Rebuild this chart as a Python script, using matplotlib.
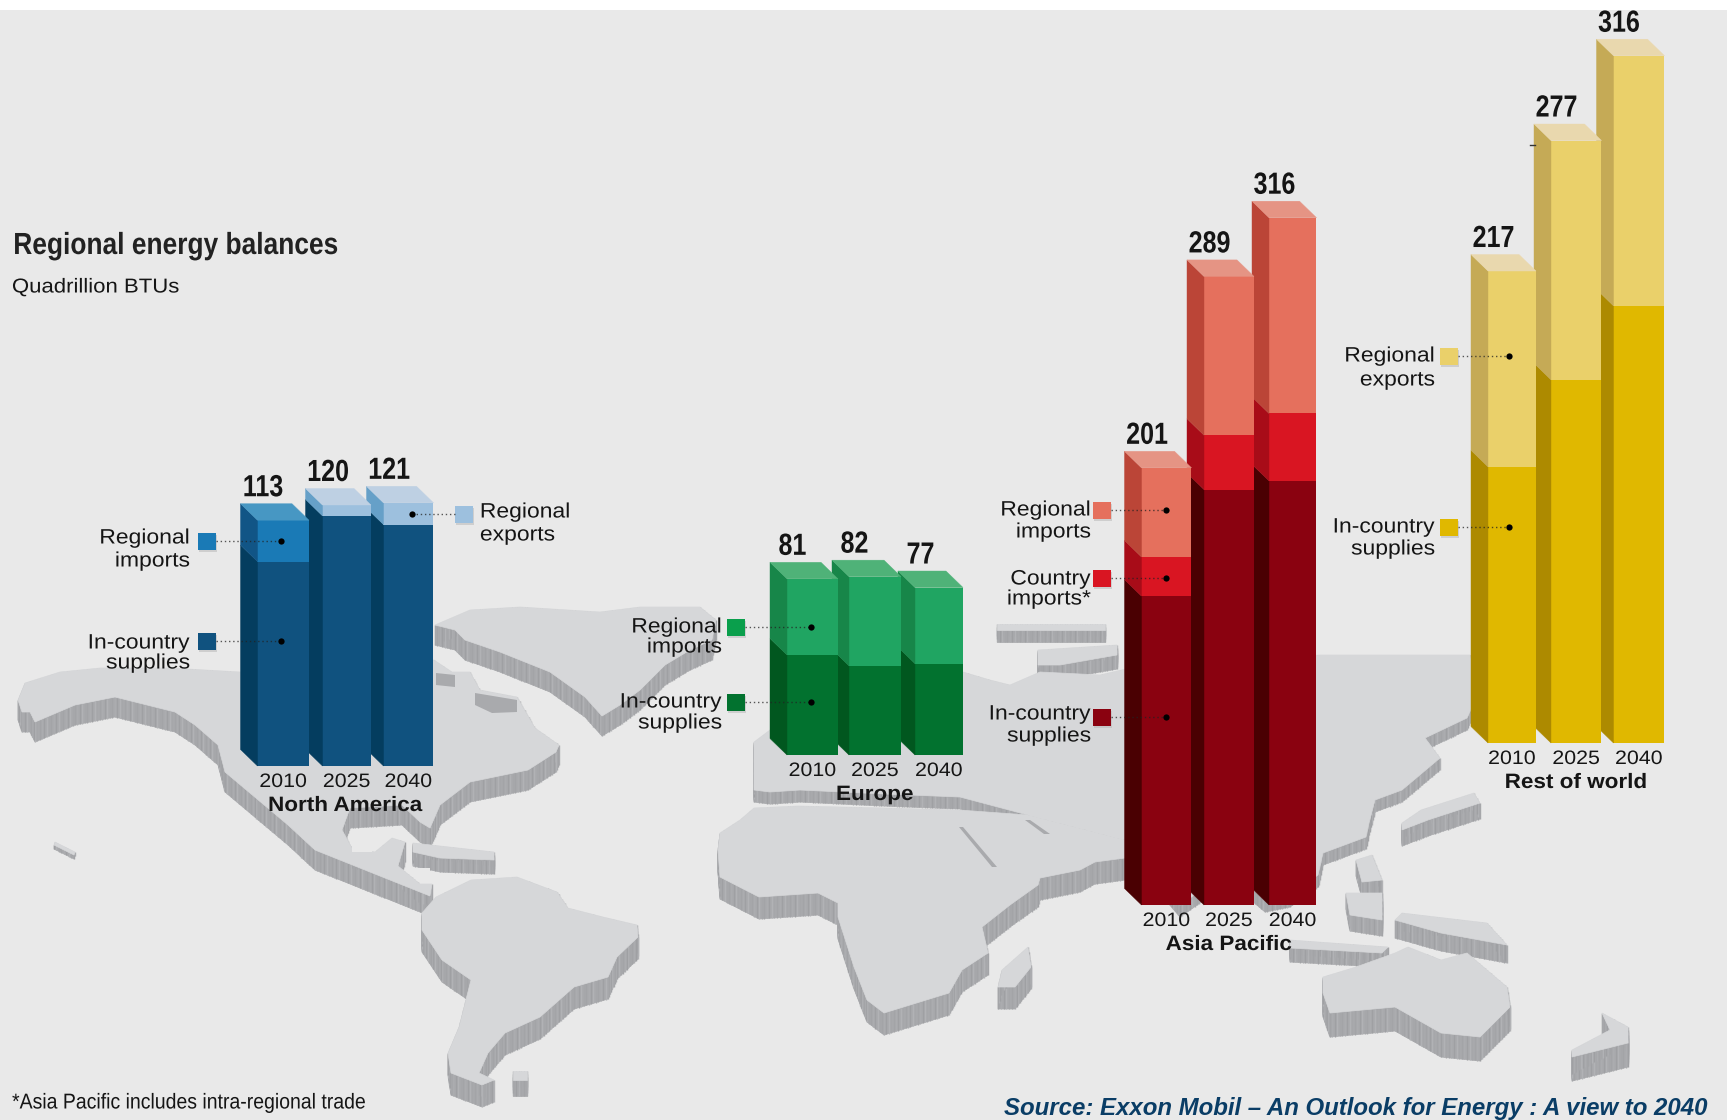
"""Regional energy balances: stacked pseudo-3D columns over a raised world map."""
import math

import matplotlib
matplotlib.use("Agg")
import matplotlib.pyplot as plt
from matplotlib.patches import Polygon, Rectangle
from matplotlib.patheffects import AbstractPathEffect
from matplotlib.transforms import Affine2D

W, H = 1727, 1120
BG = "#e9e9e9"
LAND = "#d6d7d9"
LAND_EDGE = "#a9aaad"
EDGE_STREAKS = ["#a6a7aa", "#b1b2b5", "#9fa0a3", "#abacaf", "#a3a4a7"]
INK = "#151515"
SANS = ["Liberation Sans", "DejaVu Sans"]

YEARS = ["2010", "2025", "2040"]

NA_TOTALS = [113, 120, 121]
NA_SUPPLIES = [94, 115, 111]
NA_IMPORTS = [19, 0, 0]
NA_EXPORTS = [0, 5, 10]

EU_TOTALS = [81, 82, 77]
EU_SUPPLIES = [46, 41, 42]
EU_IMPORTS = [35, 41, 35]

AP_TOTALS = [201, 289, 316]
AP_SUPPLIES = [142, 191, 195]
AP_COUNTRY = [18, 25, 31]
AP_IMPORTS = [41, 73, 90]

RW_TOTALS = [217, 277, 316]
RW_SUPPLIES = [127, 167, 201]
RW_EXPORTS = [90, 110, 115]

# pixels per quadrillion BTU, shared by every group of columns
PX_PER_UNIT = 2.175
DEPTH_X, DEPTH_Y = 17, 16.5

# land outlines in figure pixels: (outline, extrusion height)
GREENLAND = [(435, 625), (470, 610), (520, 607), (600, 612), (640, 607), (700, 607), (716, 620),
             (712, 640), (690, 650), (665, 665), (640, 690), (620, 705), (602, 716), (585, 697),
             (550, 672), (500, 652), (465, 640), (455, 630)]
NORTH_AMERICA = [(18, 700), (25, 683), (60, 672), (100, 668), (170, 668), (240, 672), (320, 662),
                 (434, 660), (452, 672), (470, 672), (480, 690), (517, 697), (535, 728), (559, 745),
                 (556, 752), (528, 770), (470, 782), (440, 805), (430, 828), (420, 822), (402, 805),
                 (350, 808), (342, 830), (352, 848), (375, 852), (392, 838), (405, 842), (398, 866),
                 (420, 884), (432, 884), (430, 896), (410, 888), (360, 868), (315, 850), (288, 825),
                 (225, 772), (218, 745), (195, 725), (175, 712), (115, 697), (75, 705), (35, 722),
                 (30, 712), (22, 712)]
CARIBBEAN = [(413, 843), (440, 846), (494, 852), (494, 860), (440, 858), (413, 852)]
SOUTH_AMERICA = [(422, 913), (436, 897), (471, 880), (517, 877), (557, 892), (568, 908), (603, 917),
                 (637, 925), (638, 937), (617, 957), (608, 977), (574, 987), (540, 1017), (505, 1033),
                 (488, 1053), (479, 1073), (494, 1080), (482, 1085), (451, 1073), (448, 1053),
                 (459, 1027), (471, 980), (442, 960), (422, 930)]
FALKLANDS = [(513, 1071), (527, 1071), (527, 1080), (513, 1080)]
EURASIA = [(754, 790), (754, 742), (770, 730), (790, 690), (963, 672), (990, 680), (1010, 685),
           (1040, 672), (1100, 675), (1130, 668), (1320, 655), (1400, 655), (1470, 655), (1480, 690),
           (1467, 718), (1425, 738), (1440, 758), (1402, 790), (1375, 800), (1369, 823), (1366, 837),
           (1323, 853), (1318, 875), (1290, 895), (1265, 900), (1230, 870), (1180, 905), (1150, 870),
           (1125, 850), (1074, 837), (1028, 815), (960, 797), (884, 794), (800, 790), (770, 792)]
AFRICA = [(720, 833), (740, 820), (754, 808), (798, 806), (884, 808), (959, 810), (1028, 815),
          (1125, 840), (1125, 858), (1095, 862), (1080, 870), (1040, 878), (1038, 885),
          (1010, 905), (982, 927), (988, 953), (962, 970), (949, 993), (884, 1013), (867, 1000),
          (854, 967), (838, 917), (838, 903), (818, 893), (759, 897), (720, 877), (718, 850)]
MADAGASCAR = [(1028, 947), (1031, 967), (1015, 987), (998, 987), (1002, 970)]
AUSTRALIA = [(1323, 977), (1356, 967), (1395, 953), (1408, 947), (1441, 960), (1467, 953), (1507, 987),
             (1510, 1007), (1480, 1037), (1441, 1033), (1395, 1007), (1330, 1013), (1323, 993)]
NEW_ZEALAND = [(1602, 1013), (1628, 1027), (1628, 1043), (1572, 1057), (1572, 1050), (1610, 1030)]
NEW_GUINEA = [(1395, 920), (1402, 913), (1487, 923), (1507, 945), (1441, 933)]
JAVA = [(1290, 940), (1388, 947), (1382, 953), (1290, 948)]
BORNEO = [(1346, 893), (1382, 893), (1382, 920), (1350, 915)]
PHILIPPINES = [(1356, 860), (1372, 855), (1382, 880), (1362, 882)]
JAPAN = [(1474, 793), (1421, 810), (1402, 823), (1402, 830), (1428, 820), (1480, 803)]
ARCTIC_RUSSIA = [(997, 624), (1105, 624), (1105, 630), (997, 630)]
NOVAYA_ZEMLYA = [(1038, 650), (1117, 645), (1117, 655), (1060, 665), (1038, 665)]
HAWAII = [(55, 842), (75, 852), (74, 855), (54, 845)]

LANDMASSES = [
    (ARCTIC_RUSSIA, 12), (NOVAYA_ZEMLYA, 14), (EURASIA, 12), (GREENLAND, 20), (NORTH_AMERICA, 20),
    (CARIBBEAN, 14), (JAPAN, 16), (PHILIPPINES, 16), (AFRICA, 22), (BORNEO, 16), (NEW_GUINEA, 18),
    (JAVA, 14), (MADAGASCAR, 22), (SOUTH_AMERICA, 22), (FALKLANDS, 16), (AUSTRALIA, 24),
    (NEW_ZEALAND, 24), (HAWAII, 4),
]

# inland water: thin seams and bays laid over the land tops
RED_SEA = [(959, 827), (963, 827), (997, 867), (992, 867)]
PERSIAN_GULF = [(1025, 820), (1030, 820), (1050, 834), (1044, 834)]
HUDSON_WEST = [(436, 673), (455, 675), (455, 687), (436, 685)]
HUDSON_EAST = [(475, 693), (517, 700), (517, 712), (492, 713), (475, 705)]
SEAMS = [RED_SEA, PERSIAN_GULF, HUDSON_WEST, HUDSON_EAST]
GULF_SPOTS = [[(352, 845), (372, 845), (372, 852), (352, 852)],
              [(415, 868), (430, 868), (430, 878), (415, 878)]]

BLUES = {"supply": ("#10527f", "#043d5f", "#10527f"),
         "imports": ("#1a7ab6", "#115586", "#4797c3"),
         "exports": ("#9dc0de", "#66a0c8", "#bed0e3")}
GREENS = {"supply": ("#02722f", "#01571f", "#02722f"),
          "imports": ("#20a562", "#178649", "#4fb278")}
REDS = {"supply": ("#8a0210", "#4a0002", "#8a0210"),
        "country": ("#d91522", "#a80c18", "#d91522"),
        "imports": ("#e5705d", "#bb4537", "#e59484")}
GOLDS = {"supply": ("#e0b800", "#ad8a00", "#e0b800"),
         "exports": ("#ead06a", "#c5aa56", "#e9d8ae")}

# name, baseline px, left/right px of each front face, stacks, totals, palette
REGIONS = [
    ("North America", 766, [257.5, 322.5, 383.5], [309, 371, 433.5],
     [("supply", NA_SUPPLIES), ("imports", NA_IMPORTS), ("exports", NA_EXPORTS)], NA_TOTALS, BLUES),
    ("Europe", 755, [787, 849, 915], [838, 901, 963],
     [("supply", EU_SUPPLIES), ("imports", EU_IMPORTS)], EU_TOTALS, GREENS),
    ("Asia Pacific", 905, [1141.5, 1204, 1269], [1191.5, 1254, 1316.5],
     [("supply", AP_SUPPLIES), ("country", AP_COUNTRY), ("imports", AP_IMPORTS)], AP_TOTALS, REDS),
    ("Rest of world", 743, [1488, 1551, 1613.5], [1536, 1601.5, 1664.5],
     [("supply", RW_SUPPLIES), ("exports", RW_EXPORTS)], RW_TOTALS, GOLDS),
]

# colour, square left px, square centre y, dot x, text anchor x, alignment, text lines with their y
CALLOUTS = [
    ("#1a7ab6", 198, 541, 281, 190, "right", [("Regional", 538), ("imports", 561)]),
    ("#10527f", 198, 641, 281, 190, "right", [("In-country", 643), ("supplies", 663)]),
    ("#9dc0de", 455, 514, 412, 480, "left", [("Regional", 512), ("exports", 535)]),
    ("#0a9f4c", 727, 627, 811, 722, "right", [("Regional", 627), ("imports", 647)]),
    ("#02722f", 727, 702, 811, 722, "right", [("In-country", 702), ("supplies", 723)]),
    ("#e5705d", 1093, 510, 1166, 1091, "right", [("Regional", 510), ("imports", 532)]),
    ("#d91522", 1093, 578, 1166, 1091, "right", [("Country", 579), ("imports*", 599)]),
    ("#8a0210", 1093, 717, 1166, 1091, "right", [("In-country", 714), ("supplies", 736)]),
    ("#ead06a", 1440, 356, 1509, 1435, "right", [("Regional", 356), ("exports", 380)]),
    ("#e0b800", 1440, 527, 1509, 1435, "right", [("In-country", 527), ("supplies", 549)]),
]


class ScaleX(AbstractPathEffect):
    """Rescale a text line horizontally; the installed faces have no condensed or wide cut."""

    def __init__(self, sx, anchor=0.5):
        super().__init__()
        self.sx = sx
        self.anchor = anchor

    def draw_path(self, renderer, gc, tpath, affine, rgbFace=None):
        box = tpath.get_extents(affine)
        px = box.x0 + self.anchor * box.width
        scaled = affine + Affine2D().translate(-px, 0).scale(self.sx, 1).translate(px, 0)
        renderer.draw_path(gc, tpath, scaled, rgbFace)


def pixel_axes(fig, zorder):
    ax = fig.add_axes([0, 0, 1, 1], zorder=zorder)
    ax.set_xlim(0, W)
    ax.set_ylim(H, 0)
    ax.axis("off")
    ax.patch.set_alpha(0)
    return ax


def draw_land(ax, outline, height):
    # stack shifted copies of the outline to get the raised edge
    for dy in range(height, 0, -1):
        ax.add_patch(Polygon([(x, y + dy) for x, y in outline], closed=True,
                             fc=LAND_EDGE, ec=LAND_EDGE, lw=0.5))
    # vertical streaks down the raised edge, the top face hides the back ones
    k = 0
    for (x0, y0), (x1, y1) in zip(outline, outline[1:] + outline[:1]):
        steps = max(1, int(math.hypot(x1 - x0, y1 - y0) / 2.5))
        for s in range(steps):
            x = x0 + (x1 - x0) * s / steps
            y = y0 + (y1 - y0) * s / steps
            ax.plot([x, x], [y, y + height], color=EDGE_STREAKS[k % len(EDGE_STREAKS)], lw=1.0,
                    solid_capstyle="butt", zorder=1)
            k += 1
    ax.add_patch(Polygon(outline, closed=True, fc=LAND, ec=LAND, lw=0.5, zorder=1))


def draw_column(ax, x0, x1, stack, palette, idx):
    dx = DEPTH_X
    dv = DEPTH_Y / PX_PER_UNIT
    bottom = 0
    top_colour = None
    for key, values in stack:
        val = values[idx]
        if val == 0:
            continue
        front, side, top = palette[key]
        ax.bar(x0, val, bottom=bottom, width=x1 - x0, align="edge", color=front, lw=0)
        ax.add_patch(Polygon([(x0, bottom), (x0, bottom + val), (x0 - dx, bottom + val + dv),
                              (x0 - dx, bottom + dv)], closed=True, fc=side, ec=side, lw=0.3))
        bottom += val
        top_colour = top
    ax.add_patch(Polygon([(x0, bottom), (x1, bottom), (x1 - dx, bottom + dv), (x0 - dx, bottom + dv)],
                         closed=True, fc=top_colour, ec=top_colour, lw=0.3))
    return bottom


fig = plt.figure(figsize=(W / 100, H / 100), dpi=100, facecolor=BG)

base_ax = pixel_axes(fig, 0)
for outline, height in LANDMASSES:
    draw_land(base_ax, outline, height)
for seam in SEAMS:
    base_ax.add_patch(Polygon(seam, closed=True, fc=LAND_EDGE, ec="none", zorder=1))
for spot in GULF_SPOTS:
    base_ax.add_patch(Polygon(spot, closed=True, fc=BG, ec="none", zorder=1))

for n, (name, base_px, lefts, rights, stack, totals, palette) in enumerate(REGIONS):
    # one axes per group, with y in BTUs and the baseline at value 0
    ax = fig.add_axes([0, 0, 1, 1], zorder=n + 1)
    ax.set_xlim(0, W)
    ax.set_ylim((base_px - H) / PX_PER_UNIT, base_px / PX_PER_UNIT)
    ax.axis("off")
    ax.patch.set_alpha(0)
    # right-hand columns go first so the left ones overlap them
    for i in range(len(YEARS) - 1, -1, -1):
        top = draw_column(ax, lefts[i], rights[i], stack, palette, i)
        ax.text(lefts[i] - DEPTH_X + 22.5, top + (DEPTH_Y + 7.5) / PX_PER_UNIT, str(totals[i]),
                ha="center", va="baseline", family=SANS, fontweight="bold", fontsize=22, color=INK,
                path_effects=[ScaleX(0.82)])
        ax.text((lefts[i] + rights[i]) / 2, -16.5 / PX_PER_UNIT, YEARS[i], ha="center", va="center",
                family=SANS, fontsize=14, color=INK, path_effects=[ScaleX(1.1)])
    ax.text((lefts[0] + rights[-1]) / 2, -39.5 / PX_PER_UNIT, name, ha="center", va="center",
            family=SANS, fontweight="bold", fontsize=15, color=INK, path_effects=[ScaleX(1.08)])

over = pixel_axes(fig, 10)
for colour, sq_x, sq_y, dot_x, text_x, align, lines in CALLOUTS:
    over.add_patch(Rectangle((sq_x + 1.5, sq_y - 6.5), 18, 17, fc="#b5b5b5", ec="none", alpha=0.5))
    over.add_patch(Rectangle((sq_x, sq_y - 8.5), 18, 17, fc=colour, ec="none"))
    # leader runs from the square's inner edge to the dot on the column
    start = sq_x + 18 if dot_x > sq_x else sq_x
    over.plot([start, dot_x], [sq_y, sq_y], ls=(0, (1, 2)), lw=1.0, color="#222222", alpha=0.75)
    over.plot([dot_x], [sq_y], "o", ms=4.5, color="black", mew=0)
    anchor = 1.0 if align == "right" else 0.0
    for label, y in lines:
        over.text(text_x, y, label, ha=align, va="center", family=SANS, fontsize=15, color=INK,
                  path_effects=[ScaleX(1.1, anchor)])

over.plot([1530, 1535], [145, 145], color="#333333", lw=1)

over.text(13, 246, "Regional energy balances", ha="left", va="center", family=SANS,
          fontweight="bold", fontsize=22, color="#222222", path_effects=[ScaleX(0.862, 0.0)])
over.text(12, 287, "Quadrillion BTUs", ha="left", va="center", family=SANS, fontsize=14.5, color=INK,
          path_effects=[ScaleX(1.1, 0.0)])
over.text(12, 1103, "*Asia Pacific includes intra-regional trade", ha="left", va="center",
          family=SANS, fontsize=15.5, color=INK, path_effects=[ScaleX(0.904, 0.0)])
over.text(1708, 1109, "Source: Exxon Mobil \u2013 An Outlook for Energy : A view to 2040", ha="right",
          va="center", family=SANS, fontweight="bold", fontstyle="italic", fontsize=17.3, color="#0a3d66")

# blank strip along the top edge, it crops the tallest value label
over.add_patch(Rectangle((0, 0), W, 10, fc="white", ec="none", zorder=20))

fig.savefig("out.png", dpi=100, facecolor=BG)
